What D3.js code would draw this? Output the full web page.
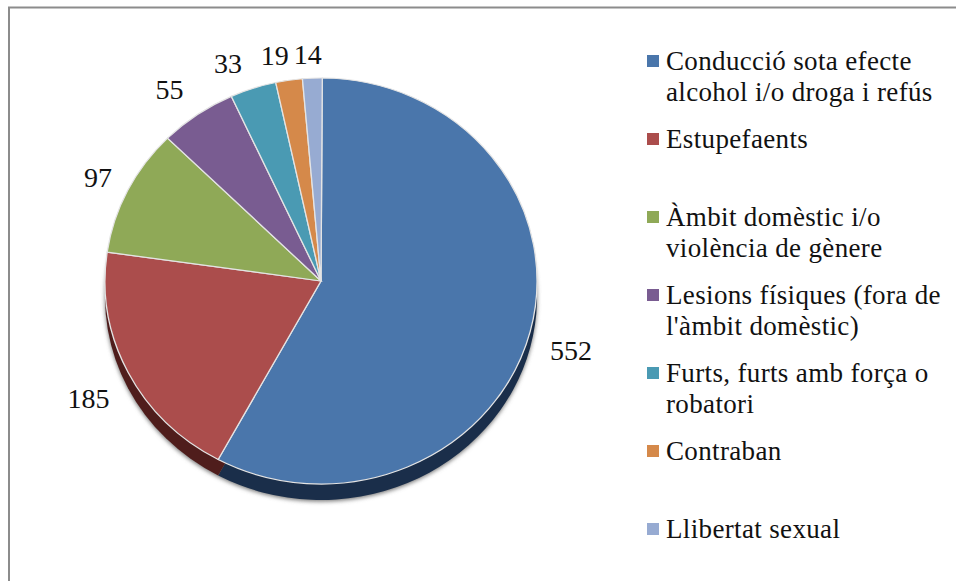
<!DOCTYPE html>
<html>
<head>
<meta charset="utf-8">
<script src="https://cdn.jsdelivr.net/npm/d3@7"></script>
<style>
html, body { margin: 0; background: #fff; }
text { font-family: "Liberation Serif", serif; fill: #111; }
</style>
</head>
<body>
<svg id="chart" width="956" height="581"></svg>
<script>
const categories = [
    ["Conducció sota efecte", "alcohol i/o droga i refús"],
    ["Estupefaents"],
    ["Àmbit domèstic i/o", "violència de gènere"],
    ["Lesions físiques (fora de", "l'àmbit domèstic)"],
    ["Furts, furts amb força o", "robatori"],
    ["Contraban"],
    ["Llibertat sexual"]
]
const values = [552, 185, 97, 55, 33, 19, 14]
const colors = ["#4a76ab", "#ab4d4c", "#8fa957", "#795c91", "#4a9ab3", "#d5894a", "#97abd2"]
const sideColors = ["#1a2e4a", "#4f1d1c", "#3f4c22", "#33254a", "#1d4454", "#6e3d17", "#45557a"]
// hand nudges for the value labels, the original places them by hand too
const labelNudgeX = [0, -2, 8, -4, -12, -8, -3]
const labelNudgeY = [12, 13, 0, -2, 2, 4, 5]

const cx = 321, cy = 281, rx = 216, ry = 203, depth = 16
const rotation = 0.006 // slight turn of the disc seen in the original

let svg = d3.select("#chart")

// frame, only top and left edges show
svg.append("path")
    .attr("d", "M9,581V7.5H956")
    .attr("fill", "none")
    .attr("stroke", "#8c8c8c")
    .attr("stroke-width", 2)

let defs = svg.append("defs")
defs.append("filter").attr("id", "soft")
    .attr("x", "-10%").attr("y", "-10%").attr("width", "120%").attr("height", "120%")
    .append("feGaussianBlur").attr("stdDeviation", 2)

let pie = d3.pie().sort(null).value(d => d)
    .startAngle(rotation).endAngle(2 * Math.PI + rotation)
let arcs = pie(values)
let arc = d3.arc().innerRadius(0).outerRadius(rx)

// soft shadow under the disc
svg.append("ellipse")
    .attr("cx", cx).attr("cy", cy + depth + 1.5)
    .attr("rx", rx).attr("ry", ry)
    .attr("fill", "#777")
    .attr("filter", "url(#soft)")

let side = svg.append("g")
    .attr("transform", `translate(${cx},${cy + depth}) scale(1,${ry / rx})`)
side.selectAll("path").data(arcs).join("path")
    .attr("d", arc)
    .attr("fill", (d, i) => sideColors[i])

let face = svg.append("g")
    .attr("transform", `translate(${cx},${cy}) scale(1,${ry / rx})`)
face.selectAll("path").data(arcs).join("path")
    .attr("d", arc)
    .attr("fill", (d, i) => colors[i])
    .attr("stroke", "#e4e4e4")
    .attr("stroke-width", 1.3)

// value labels on a wider ellipse
let labelX = d3.arc().innerRadius(258).outerRadius(258)
let labelY = d3.arc().innerRadius(232).outerRadius(232)
svg.append("g").selectAll("text").data(arcs).join("text")
    .attr("x", (d, i) => cx + labelX.centroid(d)[0] + labelNudgeX[i])
    .attr("y", (d, i) => cy + labelY.centroid(d)[1] + labelNudgeY[i])
    .attr("dy", "0.35em")
    .attr("text-anchor", "middle")
    .attr("font-size", 28)
    .text(d => d.value)

// legend
let legendY = d3.scaleLinear().domain([0, categories.length - 1]).range([61, 529])
let legend = svg.append("g").selectAll("g").data(categories).join("g")
    .attr("transform", (d, i) => `translate(647,${legendY(i)})`)
legend.append("rect")
    .attr("x", 0).attr("y", -6)
    .attr("width", 12).attr("height", 12)
    .attr("fill", (d, i) => colors[i])
legend.selectAll("text").data(d => d).join("text")
    .attr("x", 19)
    .attr("y", (d, i) => 9 + i * 30.5)
    .attr("font-size", 27)
    .attr("letter-spacing", 0.35)
    .text(d => d)
</script>
</body>
</html>
